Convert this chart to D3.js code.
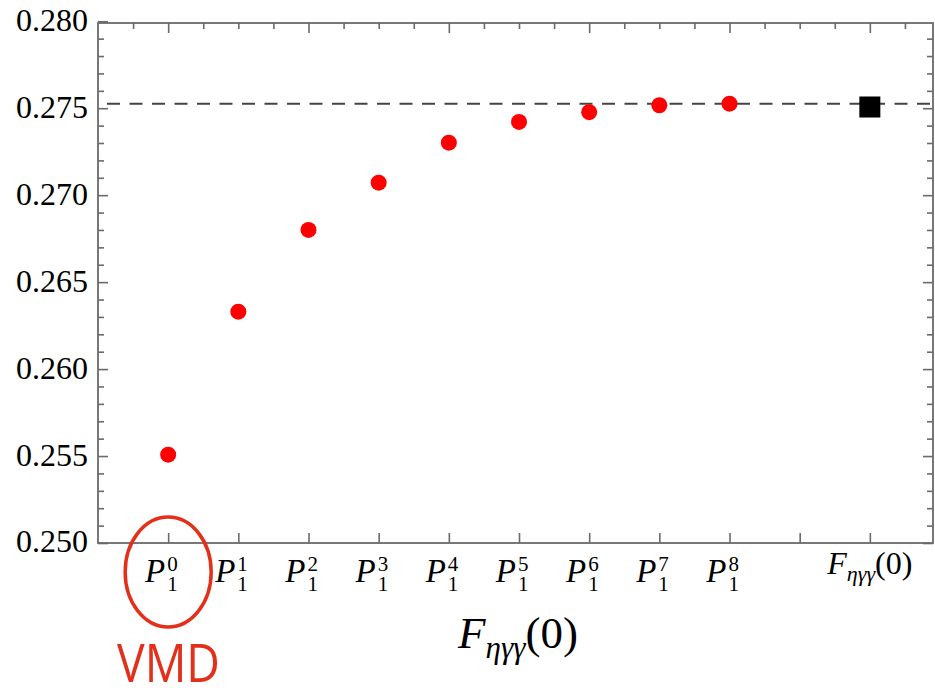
<!DOCTYPE html>
<html>
<head>
<meta charset="utf-8">
<script src="https://cdn.jsdelivr.net/npm/d3@7"></script>
<style>
  html, body { margin: 0; padding: 0; background: #fff; }
  svg { display: block; }
</style>
</head>
<body>
<svg id="chart" width="935" height="691"></svg>
<script>
// ---- data ----
const orders = [0, 1, 2, 3, 4, 5, 6, 7, 8];                // superscript N of P^N_1
const xPositions = [1, 2, 3, 4, 5, 6, 7, 8, 9];
const approxValues = [0.25508, 0.26330, 0.26800, 0.27072, 0.27302, 0.27421, 0.27477, 0.27517, 0.27526];
const exactX = 11;
const exactValue = 0.27507;
const referenceLine = 0.27526;
const yTickValues = [0.250, 0.255, 0.260, 0.265, 0.270, 0.275, 0.280];
const yTickLabels = ["0.250", "0.255", "0.260", "0.265", "0.270", "0.275", "0.280"];
const xTickValues = [1, 2, 3, 4, 5, 6, 7, 8, 9, 10, 11];

const SERIF = "font-family: 'Liberation Serif', 'Times New Roman', Times, serif";
const SANS = "font-family: 'Open Sans', Lato, 'Liberation Sans', sans-serif";

const svg = d3.select("#chart");
const L = 98, R = 933, T = 23, B = 543;
const x = d3.scaleLinear().domain([0, 11.9]).range([L, R]);
const y = d3.scaleLinear().domain([0.25, 0.2799]).range([B, T]);

const axisColor = "#6a6a6a";

// clip for the top label (cut off in the original); in the left-axis group's coordinates
svg.append("defs").append("clipPath").attr("id", "topclip")
  .append("rect").attr("x", -L).attr("y", 10).attr("width", 935).attr("height", 681);

// minor tick values
const yMinor = d3.range(0, 31).map(i => 0.25 + i * 0.001).filter(v => v <= 0.2799 + 1e-9 && !yTickValues.some(t => Math.abs(t - v) < 1e-9));
const topMajor = [1, 3, 5, 7, 9, 11];
const topMinor = d3.range(1, 24).map(i => i * 0.5).filter(v => v < 11.9 && !topMajor.includes(v));

function styleAxis(g) {
  g.select(".domain").remove();
  g.selectAll(".tick line").attr("stroke", axisColor).attr("stroke-width", 1.6);
}

// left axis: major with labels
const leftMajor = svg.append("g").attr("transform", `translate(${L},0)`)
  .attr("clip-path", "url(#topclip)")
  .call(d3.axisLeft(y).tickValues(yTickValues).tickSizeInner(-10).tickSizeOuter(0).tickPadding(10)
    .tickFormat((d, i) => yTickLabels[i]));
styleAxis(leftMajor);
leftMajor.attr("font-family", null);
leftMajor.selectAll(".tick text").attr("font-size", 32).attr("fill", "#000")
  .attr("style", SERIF).attr("dy", "0.28em");
svg.append("g").attr("transform", `translate(${L},0)`)
  .call(d3.axisLeft(y).tickValues(yMinor).tickSizeInner(-6).tickSizeOuter(0).tickFormat(""))
  .call(styleAxis);

// right axis (ticks only)
svg.append("g").attr("transform", `translate(${R},0)`)
  .call(d3.axisRight(y).tickValues(yTickValues.filter(v => v <= 0.2799)).tickSizeInner(-10).tickSizeOuter(0).tickFormat(""))
  .call(styleAxis);
svg.append("g").attr("transform", `translate(${R},0)`)
  .call(d3.axisRight(y).tickValues(yMinor).tickSizeInner(-6).tickSizeOuter(0).tickFormat(""))
  .call(styleAxis);

// top axis
svg.append("g").attr("transform", `translate(0,${T})`)
  .call(d3.axisTop(x).tickValues(topMajor).tickSizeInner(-10).tickSizeOuter(0).tickFormat(""))
  .call(styleAxis);
svg.append("g").attr("transform", `translate(0,${T})`)
  .call(d3.axisTop(x).tickValues(topMinor).tickSizeInner(-6).tickSizeOuter(0).tickFormat(""))
  .call(styleAxis);

// bottom axis
svg.append("g").attr("transform", `translate(0,${B})`)
  .call(d3.axisBottom(x).tickValues(xTickValues).tickSizeInner(-10).tickSizeOuter(0).tickFormat(""))
  .call(styleAxis);

// frame
svg.append("rect").attr("x", L).attr("y", T).attr("width", R - L).attr("height", B - T)
  .attr("fill", "none").attr("stroke", axisColor).attr("stroke-width", 1.8);

// bottom tick labels P^N_1
const labs = svg.append("g");
orders.forEach((n, i) => {
  const cx = x(xPositions[i]);
  const g = labs.append("g").attr("transform", `translate(${cx},0)`);
  g.append("text").attr("x", -3).attr("y", 582).attr("text-anchor", "end")
    .attr("font-size", 33).attr("font-style", "italic").attr("style", SERIF).text("P");
  g.append("text").attr("x", -1).attr("y", 571).attr("font-size", 21).attr("style", SERIF).text(String(n));
  g.append("text").attr("x", -1).attr("y", 591).attr("font-size", 21).attr("style", SERIF).text("1");
});
// last tick label F_{ηγγ}(0)
const lastLab = svg.append("text").attr("x", x(exactX)).attr("y", 574).attr("text-anchor", "middle")
  .attr("font-size", 32).attr("style", SERIF);
lastLab.append("tspan").attr("font-style", "italic").text("F");
lastLab.append("tspan").attr("font-style", "italic").attr("font-size", 22).attr("dy", 7).text("ηγγ");
lastLab.append("tspan").attr("dy", -7).text("(0)");

// x-axis title
const title = svg.append("text").attr("x", 518).attr("y", 648).attr("text-anchor", "middle")
  .attr("font-size", 45).attr("style", SERIF);
title.append("tspan").attr("font-style", "italic").text("F");
title.append("tspan").attr("font-style", "italic").attr("font-size", 31).attr("dy", 10).text("ηγγ");
title.append("tspan").attr("dy", -10).text("(0)");

// dashed reference line
svg.append("line").attr("x1", L).attr("x2", R).attr("y1", y(referenceLine)).attr("y2", y(referenceLine))
  .attr("stroke", "#444").attr("stroke-width", 2).attr("stroke-dasharray", "13,9.5")
  .attr("stroke-dashoffset", -9);

// points
svg.append("g").selectAll("circle").data(approxValues).join("circle")
  .attr("cx", (d, i) => x(xPositions[i])).attr("cy", d => y(d)).attr("r", 8).attr("fill", "#ff0000");

// exact value square
const sq = 21;
svg.append("rect").attr("x", x(exactX) - sq / 2).attr("y", y(exactValue) - sq / 2)
  .attr("width", sq).attr("height", sq).attr("fill", "#000");

// VMD annotation
const red = "#e2301a";
svg.append("ellipse").attr("cx", x(xPositions[0])).attr("cy", 572).attr("rx", 43).attr("ry", 55)
  .attr("fill", "none").attr("stroke", red).attr("stroke-width", 3.5);
svg.append("text").attr("x", 117).attr("y", 682).attr("style", SANS)
  .attr("font-weight", 400).attr("font-size", 53).attr("fill", red)
  .attr("textLength", 103).attr("lengthAdjust", "spacingAndGlyphs").text("VMD");
</script>
</body>
</html>
